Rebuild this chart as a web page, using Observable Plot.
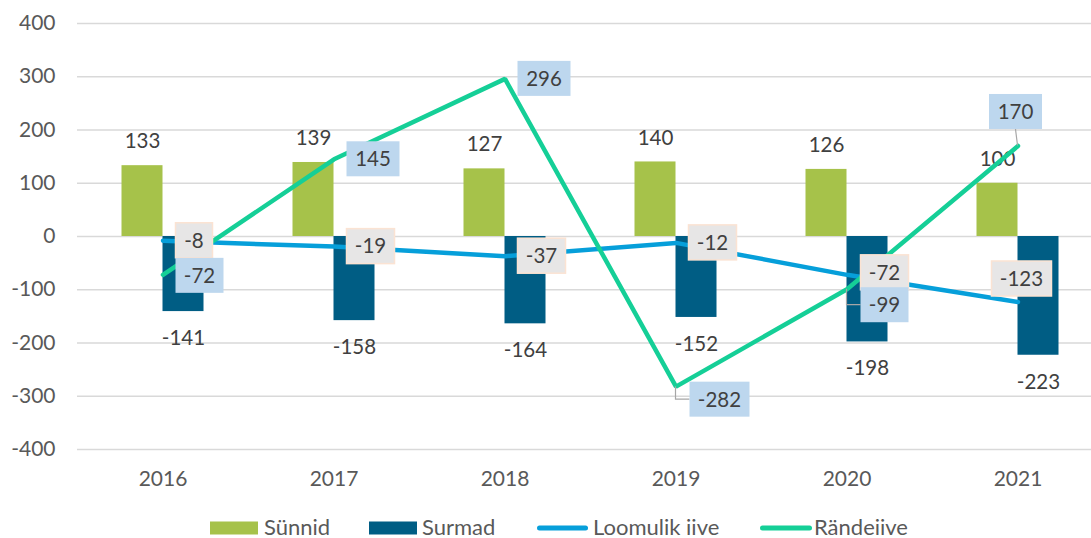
<!DOCTYPE html>
<html>
<head>
<meta charset="utf-8">
<script src="https://cdn.jsdelivr.net/npm/d3@7"></script>
<script src="https://cdn.jsdelivr.net/npm/@observablehq/plot@0.6"></script>
<style>
  body { margin: 0; background: #fff; font-family: Lato, "Open Sans", sans-serif; overflow: hidden; }
  #chart svg { display: block; }
  #legend { position: relative; height: 33px; width: 1091px; font-size: 22px; color: #595959; }
  .sw { position: absolute; }
  .lbl { position: absolute; top: 12px; height: 20px; line-height: 20px; white-space: nowrap; }
</style>
</head>
<body>
<div id="chart"></div>
<div id="legend"></div>
<script>
// ---- data ----
const years = ["2016", "2017", "2018", "2019", "2020", "2021"];
const births = [133, 139, 127, 140, 126, 100];
const deaths = [-141, -158, -164, -152, -198, -223];
const naturalChange = [-8, -19, -37, -12, -72, -123];
const migration = [-72, 145, 296, -282, -99, 170];
const yTicks = [-400, -300, -200, -100, 0, 100, 200, 300, 400];
const seriesNames = ["Sünnid", "Surmad", "Loomulik iive", "Rändeiive"];

// ---- styles / placement ----
const colors = ["#A6C24A", "#005D84", "#069FDA", "#15CF97"];
const naturalPlace = [
  {anchor: "left", dx: 13, dy: 0}, {anchor: "left", dx: 13, dy: 0}, {anchor: "left", dx: 13, dy: 0},
  {anchor: "left", dx: 13, dy: 0}, {anchor: "left", dx: 14, dy: -2}, {anchor: "center", dx: 4, dy: -23}
];
const migrationPlace = [
  {anchor: "left", dx: 13, dy: 1}, {anchor: "left", dx: 13, dy: 0}, {anchor: "left", dx: 13, dy: 0},
  {anchor: "left", dx: 14, dy: 13, leader: "elbow"}, {anchor: "left", dx: 14, dy: 16, leader: "elbow"},
  {anchor: "center", dx: -2, dy: -34, leader: "vertical"}
];
// legend layout: [swatch left, swatch width, text left]
const legendLayout = [[210, 48, 264], [369, 48, 422], [537, 51, 593], [760, 52, 814]];

const table = (vals) => vals.map((v, i) => ({year: years[i], v}));
const FONT = "Lato, 'Open Sans', sans-serif";
const LABEL_SIZE = 20.5;

function boxLabels(values, place, fill, stroke) {
  return (index, scales) => {
    const x = scales.x, y = scales.y;
    const step = x(years[1]) - x(years[0]);
    const g = d3.create("svg:g");
    const ctx = document.createElement("canvas").getContext("2d");
    ctx.font = LABEL_SIZE + "px Lato";
    values.forEach((v, i) => {
      const px = x(years[i]) + step / 2, py = y(v);
      const p = place[i];
      const label = String(v);
      const w = Math.round(ctx.measureText(label).width) + 17, h = 35;
      const left = p.anchor === "center" ? px + p.dx - w / 2 : px + p.dx;
      const cy = py + p.dy;
      if (p.leader === "elbow") {
        g.append("path").attr("d", `M${px},${py}V${cy}H${left}`)
          .attr("fill", "none").attr("stroke", "#a6a6a6").attr("stroke-width", 1.2);
      } else if (p.leader === "vertical") {
        g.append("path").attr("d", `M${px},${py}L${px + p.dx},${cy + h / 2}`)
          .attr("fill", "none").attr("stroke", "#a6a6a6").attr("stroke-width", 1.2);
      }
      g.append("rect").attr("x", left).attr("y", cy - h / 2).attr("width", w).attr("height", h)
        .attr("fill", fill).attr("stroke", stroke || "none").attr("stroke-width", 1.5);
      g.append("text").attr("x", left + w / 2).attr("y", cy).attr("text-anchor", "middle")
        .attr("dy", "0.36em").attr("font-size", LABEL_SIZE).attr("font-family", FONT).attr("fill", "#404040")
        .text(label);
    });
    return g.node();
  };
}

const chart = Plot.plot({
  width: 1091,
  height: 505,
  marginLeft: 77,
  marginRight: 0,
  marginTop: 23,
  marginBottom: 56,
  style: {fontFamily: FONT, fontSize: "21px", background: "#fff"},
  x: {type: "band", domain: years, range: [77, 1103], padding: 0, label: null},
  y: {domain: [-400, 400], label: null},
  marks: [
    Plot.gridY(yTicks, {stroke: "#d9d9d9", strokeOpacity: 1, strokeWidth: 1.3}),
    Plot.barY(table(births), {x: "year", y: "v", fill: colors[0], insetLeft: 65, insetRight: 65, dx: -20.5}),
    Plot.barY(table(deaths), {x: "year", y: "v", fill: colors[1], insetLeft: 65, insetRight: 65, dx: 20.5}),
    Plot.axisY(yTicks, {tickSize: 0, tickPadding: 22, fontSize: 21, fill: "#595959", label: null, tickFormat: d => String(d)}),
    Plot.axisX({tickSize: 0, tickPadding: 22, fontSize: 21, fill: "#595959", label: null}),
    Plot.text(table(births), {x: "year", y: "v", text: d => String(d.v), dx: -20.5, dy: -24, fontSize: LABEL_SIZE, fill: "#404040"}),
    Plot.text(table(deaths), {x: "year", y: "v", text: d => String(d.v), dx: 20.5, dy: 27, fontSize: LABEL_SIZE, fill: "#404040"}),
    Plot.line(table(naturalChange), {x: "year", y: "v", stroke: colors[2], strokeWidth: 4.5, strokeLinecap: "round", strokeLinejoin: "round"}),
    Plot.line(table(migration), {x: "year", y: "v", stroke: colors[3], strokeWidth: 4.5, strokeLinecap: "round", strokeLinejoin: "miter"}),
    boxLabels(naturalChange, naturalPlace, "#E7E6E6", "#FBE3D3"),
    boxLabels(migration, migrationPlace, "#BDD7EE", null)
  ]
});
document.getElementById("chart").appendChild(chart);

// ---- legend ----
const legend = d3.select("#legend");
seriesNames.forEach((name, i) => {
  const [sx, sw, tx] = legendLayout[i];
  const s = legend.append("svg").attr("class", "sw").attr("width", sw + 4).attr("height", 14)
    .style("left", (sx - 2) + "px").style("top", "16px");
  if (i < 2) s.append("rect").attr("x", 2).attr("y", 0.5).attr("width", sw).attr("height", 13).attr("fill", colors[i]);
  else s.append("line").attr("x1", 4.5).attr("x2", sw - 0.5).attr("y1", 7).attr("y2", 7)
    .attr("stroke", colors[i]).attr("stroke-width", 5).attr("stroke-linecap", "round");
  legend.append("span").attr("class", "lbl").style("left", tx + "px").text(name);
});
</script>
</body>
</html>
